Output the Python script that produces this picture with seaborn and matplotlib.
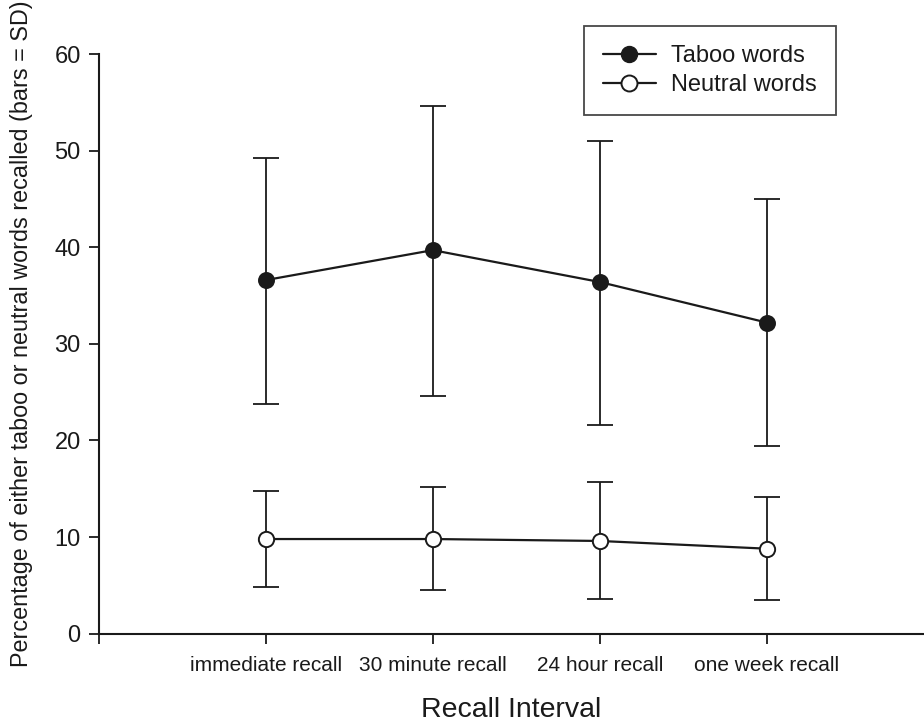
import matplotlib
matplotlib.use("Agg")
import matplotlib.pyplot as plt
from matplotlib.lines import Line2D
import seaborn as sns
import numpy as np
import pandas as pd

categories = ["immediate recall", "30 minute recall", "24 hour recall", "one week recall"]
taboo_mean = [36.6, 39.7, 36.4, 32.2]
taboo_lo = [23.8, 24.6, 21.6, 19.4]
taboo_hi = [49.2, 54.6, 51.0, 45.0]
neutral_mean = [9.8, 9.8, 9.6, 8.8]
neutral_lo = [4.8, 4.5, 3.6, 3.5]
neutral_hi = [14.8, 15.2, 15.7, 14.2]
series_labels = ["Taboo words", "Neutral words"]
yticks = [0, 10, 20, 30, 40, 50, 60]

sns.set_theme(style="ticks")
plt.rcParams["font.family"] = ["Liberation Sans", "DejaVu Sans"]
ink = "#1a1a1a"

fig = plt.figure(figsize=(9.24, 7.24), dpi=100)
ax = fig.add_axes([0.1068, 0.1247, 0.8932, 0.8007])

df_t = pd.DataFrame({"interval": categories, "pct": taboo_mean})
df_n = pd.DataFrame({"interval": categories, "pct": neutral_mean})

xs = np.arange(len(categories))
for mean, lo, hi in [(taboo_mean, taboo_lo, taboo_hi), (neutral_mean, neutral_lo, neutral_hi)]:
    mean = np.array(mean); lo = np.array(lo); hi = np.array(hi)
    ax.errorbar(xs, mean, yerr=[mean - lo, hi - mean], fmt="none", ecolor=ink,
                elinewidth=1.3, capsize=9.5, capthick=1.3, zorder=1)

sns.pointplot(data=df_t, x="interval", y="pct", order=categories, color=ink,
              markers="o", errorbar=None, ax=ax, linewidth=1.6,
              markersize=11, markerfacecolor=ink, markeredgecolor=ink, zorder=3)
sns.pointplot(data=df_n, x="interval", y="pct", order=categories, color=ink,
              markers="o", errorbar=None, ax=ax, linewidth=1.6,
              markersize=11, markerfacecolor="white", markeredgecolor=ink,
              markeredgewidth=1.4, zorder=3)

ax.set_ylim(0, 60)
ax.set_xlim(-1, 3.94)
ax.set_yticks(yticks)
ax.set_yticklabels([str(v) for v in yticks], fontsize=17)
ax.set_xticks([-1, 0, 1, 2, 3])
ax.set_xticklabels([""] + categories, fontsize=15)
ax.tick_params(axis="both", direction="out", length=7, width=1.3, color=ink, labelcolor=ink)
ax.tick_params(axis="y", pad=6)
ax.tick_params(axis="x", pad=9)
for side in ["top", "right"]:
    ax.spines[side].set_visible(False)
for side in ["left", "bottom"]:
    ax.spines[side].set_linewidth(1.5)
    ax.spines[side].set_color(ink)

ax.set_xlabel("Recall Interval", fontsize=20.5, color=ink, labelpad=16)
ax.set_ylabel("")
fig.text(22 / 924, 1 - 334 / 724, "Percentage of either taboo or neutral words recalled (bars = SD)",
         rotation=90, ha="center", va="center", fontsize=16.8, color=ink)

handles = [
    Line2D([0], [0], color=ink, lw=1.6, marker="o", markersize=11.5, markerfacecolor=ink, markeredgecolor=ink),
    Line2D([0], [0], color=ink, lw=1.6, marker="o", markersize=11.5, markerfacecolor="white",
           markeredgecolor=ink, markeredgewidth=1.4),
]
leg = ax.legend(handles, series_labels, loc="upper right", bbox_to_anchor=(836 / 924, 1 - 26 / 724),
                bbox_transform=fig.transFigure, borderaxespad=0, fancybox=False, frameon=True,
                fontsize=17, handlelength=2.25, handletextpad=0.65, labelspacing=0.32,
                borderpad=0.8, numpoints=1)
leg.get_frame().set_edgecolor(ink)
leg.get_frame().set_linewidth(1.3)
for t in leg.get_texts():
    t.set_color(ink)

fig.savefig("out.png", dpi=100)
